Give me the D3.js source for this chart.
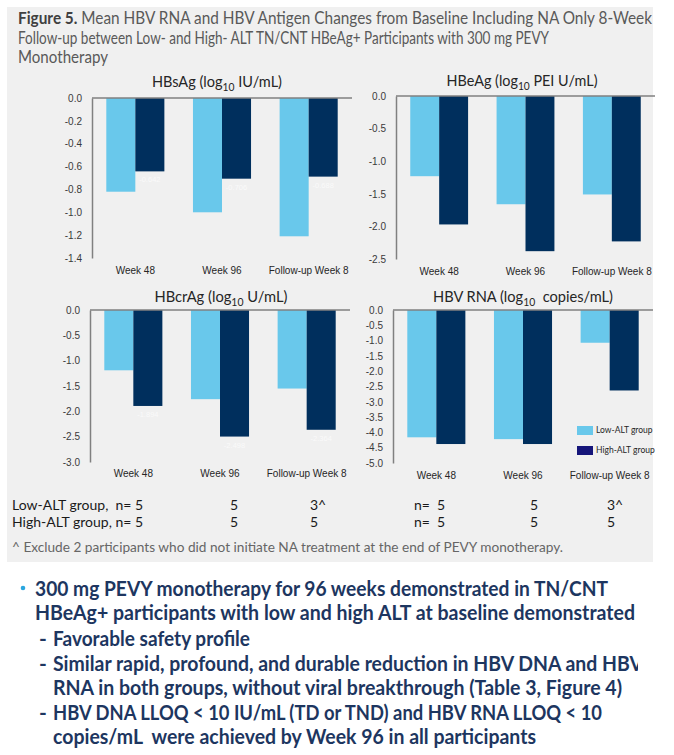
<!DOCTYPE html>
<html>
<head>
<meta charset="utf-8">
<script src="https://cdn.jsdelivr.net/npm/d3@7"></script>
<style>
  body { margin: 0; background: #fff; }
  svg { display: block; }
  text { white-space: pre; }
</style>
</head>
<body>
<script>
const width = 674;
const height = 755;

const categories = ['Week 48', 'Week 96', 'Follow-up Week 8'];
const seriesNames = ['Low-ALT group', 'High-ALT group'];

const hbsagLow = [-0.82, -1.00, -1.21];
const hbsagHigh = [-0.642, -0.706, -0.688];
const hbeagLow = [-1.23, -1.66, -1.51];
const hbeagHigh = [-1.97, -2.38, -2.23];
const hbcragLow = [-1.19, -1.76, -1.55];
const hbcragHigh = [-1.894, -2.498, -2.364];
const rnaLow = [-4.16, -4.22, -1.07];
const rnaHigh = [-4.38, -4.38, -2.63];

const lowN = ['5', '5', '3^'];
const highN = ['5', '5', '5'];

const titleLines = [
  'Mean HBV RNA and HBV Antigen Changes from Baseline Including NA Only 8-Week',
  'Follow-up between Low- and High- ALT TN/CNT HBeAg+ Participants with 300 mg PEVY',
  'Monotherapy'
];
const footnote = '^ Exclude 2 participants who did not initiate NA treatment at the end of PEVY monotherapy.';
const bulletMain = [
  '300 mg PEVY monotherapy for 96 weeks demonstrated in TN/CNT',
  'HBeAg+ participants with low and high ALT at baseline demonstrated'
];
const bulletSub = [
  ['Favorable safety profile'],
  ['Similar rapid, profound, and durable reduction in HBV DNA and HBV',
   'RNA in both groups, without viral breakthrough (Table 3, Figure 4)'],
  ['HBV DNA LLOQ < 10 IU/mL (TD or TND) and HBV RNA LLOQ < 10',
   'copies/mL  were achieved by Week 96 in all participants']
];

const lightBlue = '#69c8eb';
const navy = '#002f5d';
const legendNavy = '#15157a';
const axisGray = '#808080';
const calibri = 'Lato, "Open Sans", sans-serif';
const arial = '"Liberation Sans", Arial, sans-serif';

const svg = d3.select('body')
  .append('svg')
  .attr('width', width)
  .attr('height', height);

svg.append('defs').append('clipPath')
    .attr('id', 'textclip')
  .append('rect')
    .attr('x', 0).attr('y', 565).attr('width', 638).attr('height', 190);

svg.append('rect')
  .attr('x', 7).attr('y', 7)
  .attr('width', 646).attr('height', 555)
  .attr('fill', '#f0f0f0');

// figure title
const title = svg.append('g')
  .attr('font-family', calibri)
  .attr('font-size', 17.5)
  .attr('fill', '#595959');
const titleWidths = [634, 531, 90];
titleLines.forEach((line, i) => {
  const t = title.append('text')
    .attr('x', 18)
    .attr('y', 24 + i * 19.5)
    .attr('textLength', titleWidths[i])
    .attr('lengthAdjust', 'spacingAndGlyphs');
  if (i === 0) {
    t.append('tspan').attr('font-weight', 'bold').attr('fill', '#404040').text('Figure 5.');
    t.append('tspan').text(' ' + line);
  } else {
    t.text(line);
  }
});

const panels = [
  { low: hbsagLow, high: hbsagHigh, left: 92, right: 352, top: 98, bottom: 258,
    min: -1.4, step: 0.2, name: 'HBsAg (log', unit: 'IU/mL)', gap: ' ',
    tx: 217, ty: 87, tw: 130, labelY: 274, values: true },
  { low: hbeagLow, high: hbeagHigh, left: 396, right: 655, top: 96, bottom: 259,
    min: -2.5, step: 0.5, name: 'HBeAg (log', unit: 'PEI U/mL)', gap: ' ',
    tx: 522, ty: 86, tw: 151, labelY: 275, values: false },
  { low: hbcragLow, high: hbcragHigh, left: 90, right: 350, top: 310, bottom: 462,
    min: -3, step: 0.5, name: 'HBcrAg (log', unit: 'U/mL)', gap: ' ',
    tx: 221, ty: 302, tw: 133, labelY: 477, values: true },
  { low: rnaLow, high: rnaHigh, left: 393, right: 653, top: 310, bottom: 463,
    min: -5, step: 0.5, name: 'HBV RNA (log', unit: 'copies/mL)', gap: '  ',
    tx: 523, ty: 302, tw: 180, labelY: 479, values: false, legend: true }
];

panels.forEach(p => {
  const g = svg.append('g');

  const x0 = d3.scaleBand()
    .domain(categories)
    .range([p.left, p.right])
    .paddingInner(0.33)
    .paddingOuter(0.165);
  const x1 = d3.scaleBand()
    .domain(seriesNames)
    .range([0, x0.bandwidth()]);
  const y = d3.scaleLinear()
    .domain([p.min, 0])
    .range([p.bottom, p.top]);
  const color = d3.scaleOrdinal().domain(seriesNames).range([lightBlue, navy]);

  const rows = categories.map((c, i) => ({ cat: c, vals: [
    { s: seriesNames[0], v: p.low[i] },
    { s: seriesNames[1], v: p.high[i] }
  ] }));

  const groups = g.selectAll('.grp')
    .data(rows)
    .join('g')
      .attr('transform', d => `translate(${x0(d.cat)},0)`);
  groups.selectAll('rect')
    .data(d => d.vals)
    .join('rect')
      .attr('x', d => x1(d.s))
      .attr('width', x1.bandwidth())
      .attr('y', y(0))
      .attr('height', d => y(d.v) - y(0))
      .attr('fill', d => color(d.s));

  if (p.values) {
    groups.append('text')
      .attr('x', x1(seriesNames[1]) + x1.bandwidth() / 2)
      .attr('y', d => y(d.vals[1].v) + 11)
      .attr('text-anchor', 'middle')
      .attr('font-family', arial)
      .attr('font-size', 7.5)
      .attr('fill', '#fafafa')
      .text(d => d.vals[1].v.toFixed(3));
  }

  const ticks = d3.range(0, Math.round(-p.min / p.step) + 1).map(k => -k * p.step);
  const yAxis = g.append('g')
    .attr('transform', `translate(${p.left},0)`)
    .call(d3.axisLeft(y)
      .tickValues(ticks)
      .tickSize(0)
      .tickSizeOuter(0)
      .tickPadding(10)
      .tickFormat(d => d.toFixed(1)));
  yAxis.select('.domain').attr('stroke', axisGray).attr('stroke-width', 1.5);
  yAxis.selectAll('text')
    .attr('font-family', arial)
    .attr('font-size', 10)
    .attr('fill', '#3a3a3a');

  g.append('line')
    .attr('x1', p.left).attr('x2', p.right)
    .attr('y1', y(0)).attr('y2', y(0))
    .attr('stroke', axisGray)
    .attr('stroke-width', 1.5);

  g.selectAll('.cat')
    .data(categories)
    .join('text')
      .attr('x', d => x0(d) + x0.bandwidth() / 2)
      .attr('y', p.labelY)
      .attr('text-anchor', 'middle')
      .attr('font-family', arial)
      .attr('font-size', 10)
      .attr('fill', '#262626')
      .text(d => d);

  const t = g.append('text')
    .attr('x', p.tx)
    .attr('y', p.ty)
    .attr('text-anchor', 'middle')
    .attr('font-family', calibri)
    .attr('font-size', 15.5)
    .attr('fill', '#262626')
    .attr('textLength', p.tw)
    .attr('lengthAdjust', 'spacingAndGlyphs');
  t.append('tspan').text(p.name);
  t.append('tspan').attr('font-size', 11).attr('dy', 4).text('10');
  t.append('tspan').attr('dy', -4).text(p.gap + p.unit);

  if (p.legend) {
    const lg = g.append('g').attr('font-family', calibri).attr('font-size', 8.5).attr('fill', '#262626');
    [lightBlue, legendNavy].forEach((c, i) => {
      lg.append('rect')
        .attr('x', 577).attr('y', 426 + i * 20)
        .attr('width', 16).attr('height', 9)
        .attr('fill', c);
      lg.append('text')
        .attr('x', 596).attr('y', 433 + i * 20)
        .text(seriesNames[i]);
    });
  }
});

// sample sizes
const nTable = svg.append('g')
  .attr('font-family', calibri)
  .attr('font-size', 14)
  .attr('fill', '#1a1a1a');
[[lowN, 'Low-ALT group,  n='], [highN, 'High-ALT group, n=']].forEach(([arr, label], r) => {
  const yy = 510 + r * 17;
  nTable.append('text').attr('x', 12).attr('y', yy).text(label);
  nTable.append('text').attr('x', 414).attr('y', yy).text('n=');
  [135, 230, 310].forEach((xx, i) => nTable.append('text').attr('x', xx).attr('y', yy).text(arr[i]));
  [437, 530, 607].forEach((xx, i) => nTable.append('text').attr('x', xx).attr('y', yy).text(arr[i]));
});

svg.append('text')
  .attr('x', 12).attr('y', 552)
  .attr('font-family', calibri)
  .attr('font-size', 13.5)
  .attr('fill', '#666')
  .attr('textLength', 551)
  .attr('lengthAdjust', 'spacingAndGlyphs')
  .text(footnote);

// bullet text
const bullets = svg.append('g')
  .attr('clip-path', 'url(#textclip)')
  .attr('font-family', calibri)
  .attr('font-weight', 'bold')
  .attr('font-size', 21)
  .attr('fill', '#1d3660');

bullets.append('circle').attr('cx', 23).attr('cy', 588).attr('r', 2.3).attr('fill', '#2aa6df');
const mainWidths = [573, 600];
bulletMain.forEach((line, i) => {
  bullets.append('text')
    .attr('x', 35).attr('y', 596 + i * 24)
    .attr('textLength', mainWidths[i])
    .attr('lengthAdjust', 'spacingAndGlyphs')
    .text(line);
});
const subWidths = [[197], [590, 569], [549, 483]];
const subY = [[646], [671, 695], [720, 744]];
bulletSub.forEach((item, i) => {
  bullets.append('text').attr('x', 39).attr('y', subY[i][0]).text('-');
  item.forEach((line, j) => {
    bullets.append('text')
      .attr('x', 53).attr('y', subY[i][j])
      .attr('textLength', subWidths[i][j])
      .attr('lengthAdjust', 'spacingAndGlyphs')
      .text(line);
  });
});
</script>
</body>
</html>
